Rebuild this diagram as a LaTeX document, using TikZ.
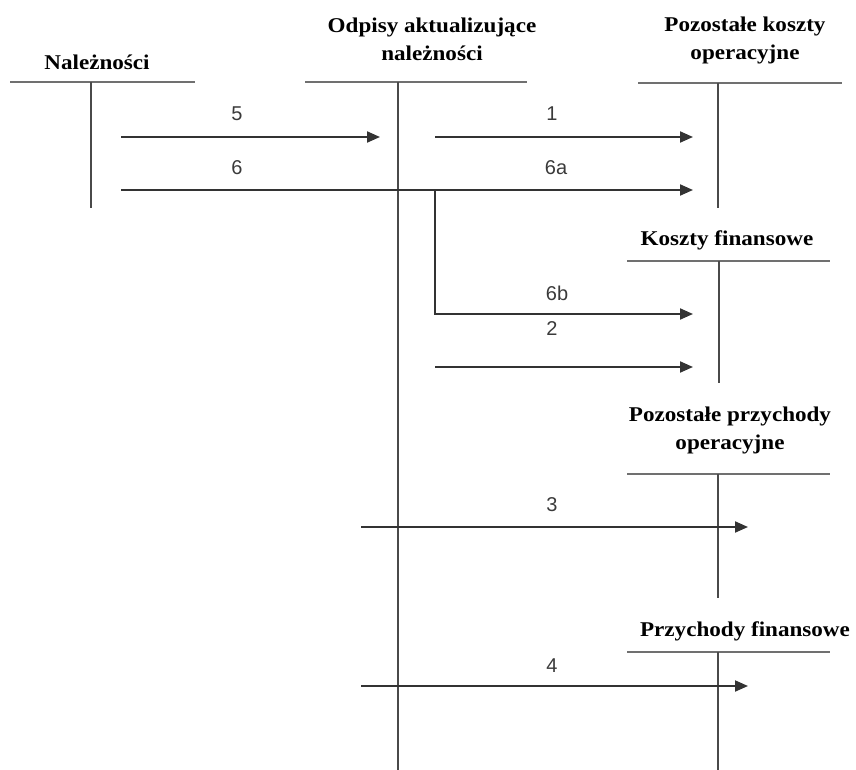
\documentclass[tikz,border=0pt]{standalone}
\usepackage{fontspec}
\setmainfont{Liberation Serif}
\newfontfamily\titlefont[FakeStretch=1.1]{Liberation Serif}
\newfontfamily\numfont{Liberation Sans}
\usetikzlibrary{arrows.meta}
\definecolor{hdr}{HTML}{707070}
\definecolor{vln}{HTML}{4A4A4A}
\definecolor{arr}{HTML}{333333}
\definecolor{lbl}{HTML}{3A3A3A}
\tikzset{
  title/.style={font=\titlefont\bfseries\fontsize{21}{28}\selectfont, align=center, inner sep=0pt, text=black},
  num/.style={font=\numfont\fontsize{20}{22}\selectfont, inner sep=0pt, text=lbl},
  hline/.style={draw=hdr, line width=2.8pt},
  vline/.style={draw=vln, line width=2pt},
  flow/.style={draw=arr, line width=2pt, -{Triangle[length=13pt,width=11pt]}},
}
\begin{document}
\begin{tikzpicture}[x=1pt,y=-1pt]
\useasboundingbox (0,0) rectangle (856,770);
% titles
\node[title] (tN) at (97,62) {Należności};
\node[title] (tO) at (432,39) {Odpisy aktualizujące\\należności};
\node[title] (tP) at (745,40) {Pozostałe koszty\\operacyjne};
\node[title] (tK) at (727,240) {Koszty finansowe};
\node[title] (tPP) at (730,430) {Pozostałe przychody\\operacyjne};
\node[title] (tPF) at (745,631) {Przychody finansowe};
% T accounts
\coordinate (nL) at (10,82); \coordinate (nR) at (195,82);
\coordinate (nT) at (91,82); \coordinate (nB) at (91,208);
\coordinate (oL) at (305,82); \coordinate (oR) at (527,82);
\coordinate (oT) at (398,82); \coordinate (oB) at (398,770);
\coordinate (pL) at (638,83); \coordinate (pR) at (842,83);
\coordinate (pT) at (718,83); \coordinate (pB) at (718,208);
\coordinate (kL) at (627,261); \coordinate (kR) at (830,261);
\coordinate (kT) at (719,261); \coordinate (kB) at (719,383);
\coordinate (qL) at (627,474); \coordinate (qR) at (830,474);
\coordinate (qT) at (718,474); \coordinate (qB) at (718,598);
\coordinate (fL) at (627,652); \coordinate (fR) at (830,652);
\coordinate (fT) at (718,652); \coordinate (fB) at (718,770);
\foreach \a in {n,o,p,k,q,f} {
  \draw[hline] (\a L) -- (\a R);
  \draw[vline] (\a T) -- (\a B);
}
% arrows
\coordinate (a5s) at (121,137); \coordinate (a5e) at (380,137);
\coordinate (a6s) at (121,190); \coordinate (a6e) at (693,190);
\coordinate (a1s) at (435,137); \coordinate (a1e) at (693,137);
\coordinate (br) at (435,190); \coordinate (brc) at (435,314);
\coordinate (a6be) at (693,314);
\coordinate (a2s) at (435,367); \coordinate (a2e) at (693,367);
\coordinate (a3s) at (361,527); \coordinate (a3e) at (748,527);
\coordinate (a4s) at (361,686); \coordinate (a4e) at (748,686);
\draw[flow] (a5s) -- (a5e);
\draw[flow] (a6s) -- (a6e);
\draw[flow] (a1s) -- (a1e);
\draw[flow] (br) -- (brc) -- (a6be);
\draw[flow] (a2s) -- (a2e);
\draw[flow] (a3s) -- (a3e);
\draw[flow] (a4s) -- (a4e);
% labels
\node[num] (l5) at (237,114) {5};
\node[num] (l6) at (237,168) {6};
\node[num] (l1) at (552,114) {1};
\node[num] (l6a) at (556,168) {6a};
\node[num] (l6b) at (557,293) {6b};
\node[num] (l2) at (552,329) {2};
\node[num] (l3) at (552,505) {3};
\node[num] (l4) at (552,666) {4};
\end{tikzpicture}
\end{document}
